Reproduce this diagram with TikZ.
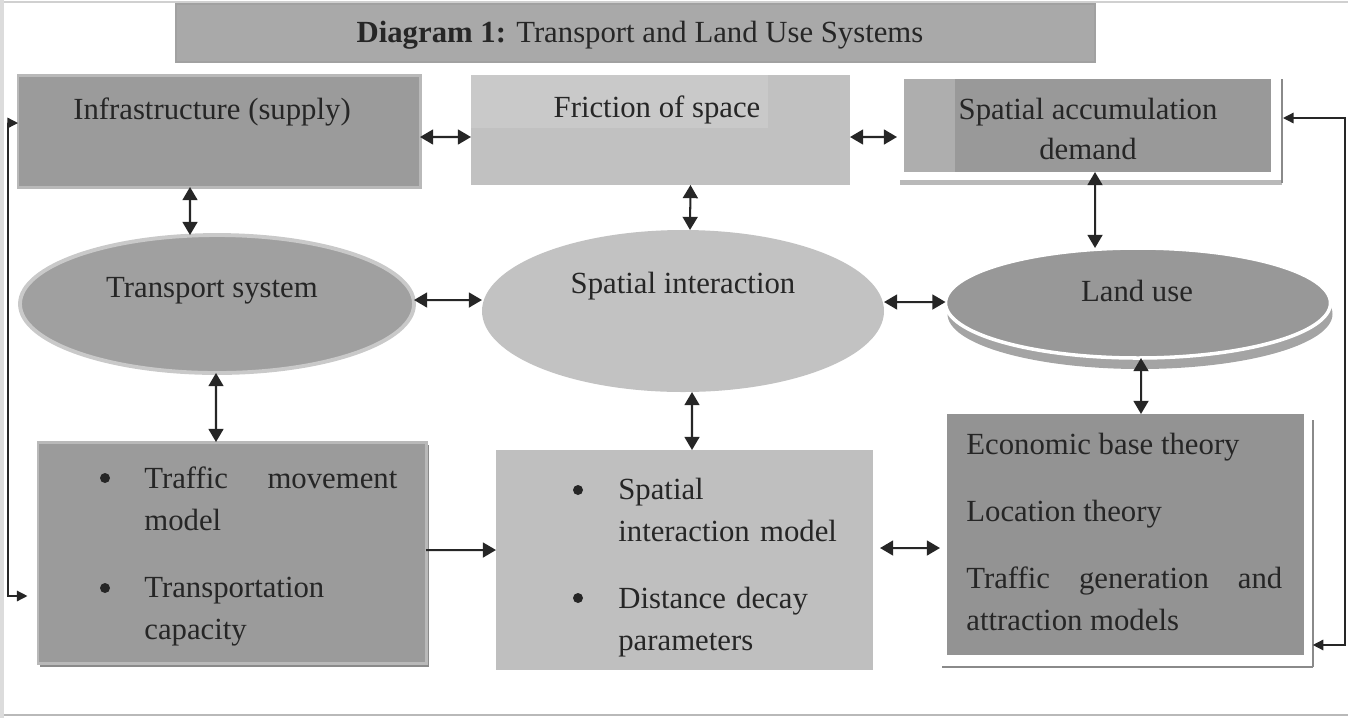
\documentclass[tikz,border=0pt]{standalone}
\usepackage{fontspec}
\setmainfont{Liberation Serif}
\usetikzlibrary{arrows.meta, shapes.geometric}

% No hyphenation inside the boxes
\hyphenpenalty=10000
\exhyphenpenalty=10000

% Greys used for the boxes and ovals
\definecolor{ink}{HTML}{262626}
\definecolor{titlegray}{HTML}{A9A9A9}
\definecolor{supplygray}{HTML}{9B9B9B}
\definecolor{rimgray}{HTML}{B9B9B9}
\definecolor{frictiongray}{HTML}{C1C1C1}
\definecolor{patchgray}{HTML}{C9C9C9}
\definecolor{demandgray}{HTML}{999999}
\definecolor{stripgray}{HTML}{AEAEAE}
\definecolor{transportgray}{HTML}{A0A0A0}
\definecolor{ovalrim}{HTML}{C9C9C9}
\definecolor{interactgray}{HTML}{C2C2C2}
\definecolor{landgray}{HTML}{989898}
\definecolor{landshade}{HTML}{A4A4A4}
\definecolor{modelgray}{HTML}{BFBFBF}
\definecolor{theorygray}{HTML}{939393}
\definecolor{edgegray}{HTML}{8A8A8A}

\tikzset{
  box/.style={rectangle, inner sep=0pt, outer sep=0pt},
  oval/.style={ellipse, inner sep=0pt, outer sep=0pt},
  txt/.style={text=ink, inner sep=0pt, font=\fontsize{17.5}{23.9}\selectfont},
  dot/.style={circle, fill=ink, inner sep=0pt, minimum size=0.2cm},
  link/.style={draw=ink, line width=1.15pt, -{Triangle[length=7.5pt,width=8.5pt]}},
  dlink/.style={link, {Triangle[length=7.5pt,width=8.5pt]}-{Triangle[length=7.5pt,width=8.5pt]}},
  loopline/.style={draw=ink, line width=0.8pt, {Triangle[length=6pt,width=6pt]}-{Triangle[length=6pt,width=6pt]}}
}

\begin{document}
\begin{tikzpicture}[x=0.02cm, y=-0.02cm]
% Work in pixel units, origin at the top left corner
\def\px{0.02cm}
\useasboundingbox (0,0) rectangle (1348,718);

% Page edges
\draw[edgegray!40, line width=1pt] (0,2) -- (1348,2);
\draw[edgegray!60, line width=1.5pt] (0,715) -- (1348,715);
\fill[edgegray!30] (0,0) rectangle (4,718);

% Title bar
\node[box, fill=titlegray, draw=edgegray!80, line width=0.6pt, minimum width=919*\px, minimum height=58*\px] (title) at (635.5,33) {};
\node[txt, anchor=base] (titletext) at (640,42) {\textbf{Diagram 1:} Transport and Land Use Systems};

% Top row: supply, friction and demand
\node[box, fill=supplygray, draw=rimgray, line width=1.7pt, minimum width=402*\px, minimum height=112*\px] (infra) at (219,131) {};
\node[txt, anchor=base] (infratext) at (212,119) {Infrastructure (supply)};

\node[box, fill=frictiongray, minimum width=379*\px, minimum height=110*\px] (fric) at (660.5,130) {};
\fill[patchgray] (fric.north west) rectangle (768,128);
\node[txt, anchor=base] (frictext) at (657,117) {Friction of space};

\fill[rimgray] (900,180) rectangle (1282,185);
\draw[edgegray, line width=0.6pt] (1282,79) -- (1282,183);
\node[box, fill=demandgray, minimum width=367*\px, minimum height=93*\px] (accum) at (1087.5,125.5) {};
\fill[stripgray] (accum.north west) rectangle (955,172);
\node[txt, anchor=base] (accumtext1) at (1088,119) {Spatial accumulation};
\node[txt, anchor=base] (accumtext2) at (1088,159) {demand};

% Middle row: the three systems
\node[oval, fill=transportgray, draw=ovalrim, line width=2.2pt, minimum width=394*\px, minimum height=138*\px] (trans) at (217,304) {};
\node[txt, anchor=base] (transtext) at (212,297) {Transport system};

\node[oval, fill=interactgray, minimum width=402*\px, minimum height=162*\px] (spint) at (683,311) {};
\node[txt, anchor=base] (spinttext) at (683,293) {Spatial interaction};

\node[oval, fill=landshade, minimum width=385*\px, minimum height=110*\px] (landshadow) at (1140,314) {};
\node[oval, fill=landgray, draw=white, line width=2pt, minimum width=385*\px, minimum height=110*\px] (land) at (1138,303) {};
\node[txt, anchor=base] (landtext) at (1137,301) {Land use};

% Bottom row: models and theories
\draw[edgegray, line width=0.8pt] (40,666) -- (428,666) -- (428,445);
\node[box, fill=supplygray, draw=rimgray, line width=1.7pt, minimum width=388*\px, minimum height=221*\px] (traffic) at (232,552.5) {};
\node[dot] (trafficdot1) at (105,478) {};
\node[dot] (trafficdot2) at (105,588) {};
\node[txt, anchor=north west, text width=5.06cm, align=justify] (traffictext1) at (144,466.5) {Traffic movement model};
\node[txt, anchor=north west, text width=5.06cm, align=justify] (traffictext2) at (144,576.5) {Transportation capacity};

\node[box, fill=modelgray, minimum width=377*\px, minimum height=220*\px] (simodel) at (684.5,560) {};
\node[dot] (simdot1) at (578,490) {};
\node[dot] (simdot2) at (578,598) {};
\node[txt, anchor=north west, text width=4.6cm, align=left] (simtext1) at (618,477.5) {Spatial\\interaction model};
\node[txt, anchor=north west, text width=4.6cm, align=left] (simtext2) at (618,586.5) {Distance decay\\parameters};

\fill[edgegray] (942,666) rectangle (1313,668);
\draw[edgegray, line width=0.6pt] (1313,420) -- (1313,667);
\node[box, fill=theorygray, minimum width=357*\px, minimum height=241*\px] (econ) at (1125.5,534.5) {};
\node[txt, anchor=base west] (econtext1) at (966,454) {Economic base theory};
\node[txt, anchor=base west] (econtext2) at (966,521) {Location theory};
\node[txt, anchor=north west, text width=6.32cm, align=justify] (econtext3) at (966,566.5) {Traffic generation and attraction models};

% Links between the boxes
\draw[dlink] ([yshift=-0.12cm]infra.east) -- ([yshift=-0.14cm]fric.west);
\draw[dlink] ([yshift=-0.14cm]fric.east) -- ([xshift=-0.14cm,yshift=-0.23cm]accum.west);
\draw[dlink] ([xshift=-0.58cm]infra.south) -- ([xshift=-0.54cm]trans.north);
\draw[dlink] ([xshift=0.6cm]fric.south) -- ([xshift=0.14cm]spint.north);
\draw[dlink] ([xshift=0.15cm]accum.south) -- ([xshift=-0.86cm]land.north);
\draw[dlink] ([yshift=0.08cm]trans.east) -- ([yshift=0.22cm]spint.west);
\draw[dlink] ([yshift=0.18cm]spint.east) -- ([yshift=0.02cm]land.west);
\draw[dlink] ([xshift=-0.02cm]trans.south) -- ([xshift=-0.32cm]traffic.north);
\draw[dlink] ([xshift=0.18cm]spint.south) -- ([xshift=0.15cm]simodel.north);
\draw[dlink] ([xshift=0.06cm]land.south) -- ([xshift=0.31cm]econ.north);
\draw[link] ([yshift=0.05cm]traffic.east) -- ([yshift=0.2cm]simodel.west);
\draw[dlink, shorten <=4pt, shorten >=4pt] ([yshift=0.24cm]simodel.east) -- ([yshift=-0.27cm]econ.west);

% Feedback loops along both sides
\draw[loopline, shorten >=6pt] ([yshift=0.16cm]infra.west) -- ++(-10,0) |- ([yshift=-0.87cm]traffic.west);
\draw[loopline, shorten >=5pt] ([xshift=0.24cm,yshift=0.15cm]accum.east) -- ++(62,0) |- ([yshift=-2.21cm]econ.east);
\end{tikzpicture}
\end{document}
